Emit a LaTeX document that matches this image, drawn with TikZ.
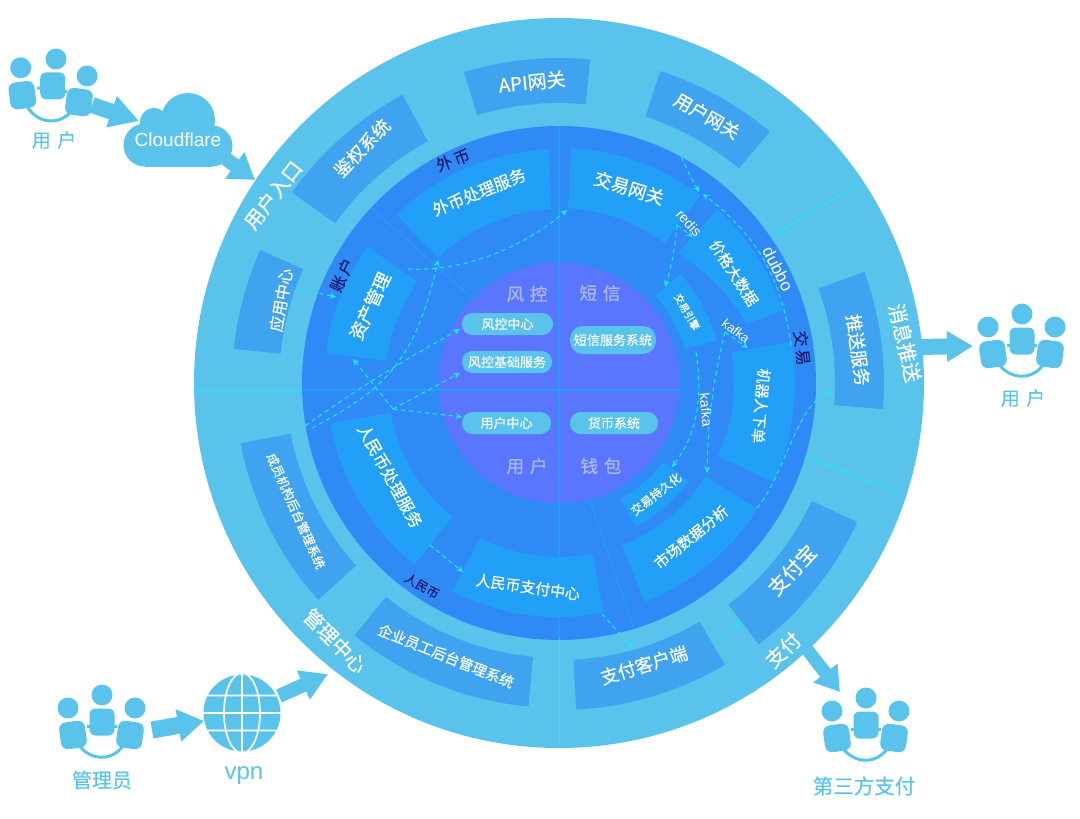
\documentclass[tikz,border=0pt]{standalone}
\usepackage{fontspec}
\setmainfont[FakeBold=0.2]{Noto Sans CJK SC}
\newfontfamily\latinfont{Liberation Sans}
\newfontfamily\corefont[FakeBold=0.8]{Noto Sans CJK SC}
\usetikzlibrary{arrows.meta}
\definecolor{ringsky}{HTML}{5AC3EC}
\definecolor{ringblue}{HTML}{308AF6}
\definecolor{coreviolet}{HTML}{5B76FE}
\definecolor{outerbox}{HTML}{40A3F0}
\definecolor{innerbox}{HTML}{22A0F8}
\definecolor{flowcyan}{HTML}{12EEFB}
\definecolor{divider}{HTML}{1F9FF5}
\definecolor{navylabel}{HTML}{1B1A70}
\definecolor{corelabel}{HTML}{ADB8F6}
\tikzset{
  txt/.style={text=white,inner sep=0pt,align=center,font=\fontsize{#1}{#1}\selectfont},
  lat/.style={text=white,inner sep=0pt,font=\latinfont\fontsize{#1}{#1}\selectfont},
  navy/.style={text=navylabel,inner sep=0pt,font=\fontsize{#1}{#1}\selectfont},
  core/.style={text=corelabel,inner sep=0pt,font=\corefont\fontsize{17.5}{17.5}\selectfont},
  skytxt/.style={text=ringsky,inner sep=0pt,font=\fontsize{#1}{#1}\selectfont},
  pill/.style={fill=ringsky,text=white,rounded corners=10.5pt,inner sep=0pt,font=\fontsize{13}{13}\selectfont},
  flow/.style={draw=flowcyan,line width=1pt,dash pattern=on 4.5pt off 3.5pt,-{Stealth[length=6.5pt,width=6pt]}},
  bigarrow/.style n args={3}{draw=ringsky,line width=#1pt,-{Triangle[length=#3pt,width=#2pt,fill=ringsky]}},
  cyanline/.style={draw=flowcyan,line width=1pt},
  dividerline/.style={draw=divider,line width=1.2pt},
}
% annular sector about the rings' centre: style, start angle, end angle, outer radius, inner radius
\newcommand\ringsector[5]{%
  \fill[#1] (#2:#4) arc[start angle=#2,end angle=#3,radius=#4] -- (#3:#5)
    arc[start angle=#3,end angle=#2,radius=#5] -- cycle;}
% group-of-people icon: name, head position, rotation
\newcommand\peopleicon[3]{%
  \begin{scope}[shift={#2},rotate=#3]
    \fill[ringsky] (-34,13) circle[radius=10.5] (33,13) circle[radius=10.5] (0,0) circle[radius=10.5];
    \draw[ringsky,line width=3pt] (-25,48) .. controls (-12,67) and (12,67) .. (23,48);
    \draw[ringsky,line width=3pt] (-15,31) -- (15,31);
    \node[fill=ringsky,minimum width=25pt,minimum height=27pt,inner sep=0pt,rounded corners=6pt] (#1c) at (0,27) {};
    \node[fill=ringsky,minimum width=26pt,minimum height=27pt,inner sep=0pt,rounded corners=7pt,rotate=8] (#1l) at (-29,40) {};
    \node[fill=ringsky,minimum width=26pt,minimum height=27pt,inner sep=0pt,rounded corners=7pt,rotate=-8] (#1r) at (28,40) {};
  \end{scope}}
\begin{document}
\begin{tikzpicture}[x=1pt,y=-1pt]
\useasboundingbox (0,0) rectangle (1080,819);

% rings
\fill[ringsky] (559,383) circle[radius=365];
\fill[ringblue] (559,383) circle[radius=257];
\fill[coreviolet] (559,383) circle[radius=120.5];

% ring dividers
\draw[cyanline] (194,390.5) -- (302,390.5);
\draw[cyanline] (559,639) -- (559,747);
\draw[cyanline] (772,236) -- (862,182);
\draw[cyanline] (806,456) -- (898,493);
\draw[dividerline] (302,390) -- (680,390);
\draw[dividerline] (559,126) -- (559,639);
\draw[dividerline] (371,208) -- (473,299);
\draw[dividerline] (589,499) -- (634,628);

% ring segments
\begin{scope}[shift={(559,383)},y=1pt]
  \ringsector{outerbox}{84.5}{107}{325}{280}
  \ringsector{outerbox}{50}{72}{328}{280}
  \ringsector{outerbox}{118.5}{144.5}{328}{275}
  \ringsector{outerbox}{156}{174}{327}{280}
  \ringsector{outerbox}{-4.6}{20}{325}{276}
  \ringsector{outerbox}{-52.6}{-25}{329}{279}
  \ringsector{outerbox}{-87}{-59.5}{327}{277}
  \ringsector{outerbox}{231}{264.6}{325}{275}
  \ringsector{outerbox}{190.7}{222}{324}{273}
  \ringsector{innerbox}{92.5}{134}{234}{174}
  \ringsector{innerbox}{53}{87}{235}{175}
  \ringsector{innerbox}{15}{42}{163}{130}
  \ringsector{innerbox}{-24.8}{10}{236}{175}
  \ringsector{innerbox}{-68.7}{-32.5}{235}{174}
  \ringsector{innerbox}{-62}{-37}{163}{131}
  \ringsector{innerbox}{243}{281}{234}{174}
  \ringsector{innerbox}{190}{231.5}{232}{171}
  \ringsector{innerbox}{144.5}{172.7}{235}{174}
  \fill[innerbox] (47.6:235) arc[start angle=47.6,end angle=17.8,radius=235]
    -- (17.5:197) to[bend right=12] (47.5:176) -- cycle;
\end{scope}

% labels on the outer ring
\node[txt=20,rotate=52] (entry) at (273,195) {用户入口};
\node[txt=20,rotate=-77] (push) at (905,343) {消息推送};
\node[txt=20,rotate=44] (pay) at (783,650) {支付};
\node[txt=20,rotate=-46] (admin) at (335,641) {管理中心};

% outer segment labels
\node[txt=19,rotate=6] (api) at (532,82) {API网关};
\node[txt=18,rotate=-30] (ugate) at (707,116) {用户网关};
\node[txt=18,rotate=46] (auth) at (362,148) {鉴权系统};
\node[txt=16,rotate=80] (appc) at (281,300) {应用中心};
\node[txt=18,rotate=-82] (pushs) at (858,350) {推送服务};
\node[txt=20,rotate=47] (alipay) at (792,570) {支付宝};
\node[txt=18,rotate=17] (payc) at (644,665) {支付客户端};
\node[txt=14.5,rotate=-22] (staff) at (446,656) {企业员工后台管理系统};
\node[txt=12.5,rotate=-66] (member) at (296,511) {成员机构后台管理系统};

% inner segment labels
\node[txt=16.5,rotate=22] (fx) at (479,192) {外币处理服务};
\node[txt=18,rotate=-17] (tgate) at (629,188) {交易网关};
\node[txt=15,rotate=-57] (price) at (734,273) {价格大数据};
\node[txt=10,rotate=-60] (engine) at (687,312) {交易引擎};
\node[txt=15,rotate=-95] (robot) at (761,406) {机器人下单};
\node[txt=15,rotate=39] (market) at (691,537) {市场数据分析};
\node[txt=12,rotate=38] (persist) at (656,494) {交易持久化};
\node[txt=15,rotate=-8] (rmbpay) at (528,587) {人民币支付中心};
\node[txt=16.5,rotate=-61] (rmbsvc) at (390,476) {人民币处理服务};
\node[txt=18,rotate=65] (asset) at (370,306) {资产管理};

% domain names on the blue ring
\node[navy=16,rotate=20] (dfx) at (453,160) {外\,币};
\node[navy=16,rotate=65] (dacc) at (342,275) {账\,户};
\node[navy=16,rotate=-83] (dtrade) at (802,348) {交\,易};
\node[navy=12.5,rotate=-30] (drmb) at (422,586) {人民币};

% transport labels
\node[lat=14,rotate=-48] (lredis) at (689,223) {redis};
\node[lat=13,rotate=-38] (lkafka) at (736,331) {kafka};
\node[lat=14,rotate=-85] (lkafkab) at (706,410) {kafka};
\node[lat=17,rotate=-63] (ldubbo) at (778,269) {dubbo};

% core: domains and services
\node[core] (crisk) at (527,294) {风\,\,控};
\node[core] (csms) at (600,293) {短\,\,信};
\node[core] (cuser) at (527,466) {用\,\,户};
\node[core] (cwallet) at (601,466) {钱\,\,包};
\node[pill,minimum width=91pt,minimum height=22pt] (riskc) at (507.5,324) {风控中心};
\node[pill,minimum width=90pt,minimum height=22pt] (riskb) at (507,362) {风控基础服务};
\node[pill,minimum width=89pt,minimum height=22pt] (userc) at (506.5,423) {用户中心};
\node[pill,minimum width=88pt,minimum height=22pt] (coin) at (614,423) {货币系统};
\node[pill,minimum width=86pt,minimum height=28pt,rounded corners=13pt] (sms) at (613,340) {短信服务系统};

% dashed service flows
\coordinate (fA) at (669,127); \coordinate (fB) at (699,192);
\coordinate (fC) at (703,194); \coordinate (fD) at (791,345);
\coordinate (fE) at (757,508); \coordinate (fF) at (833,392);
\coordinate (fG) at (677,225); \coordinate (fH) at (693,237); \coordinate (fI) at (665,287);
\coordinate (fJ) at (725,332); \coordinate (fK) at (748,348); \coordinate (fL) at (707,473);
\coordinate (fM) at (696,352); \coordinate (fN) at (672,467);
\coordinate (fO) at (292,435); \coordinate (fP) at (460,329);
\coordinate (fQ) at (312,428); \coordinate (fR) at (438,260);
\coordinate (fS) at (393,409); \coordinate (fT) at (460,373);
\coordinate (fU) at (353,359); \coordinate (fV) at (462,417);
\coordinate (fW) at (408,269); \coordinate (fX) at (567,210);
\coordinate (fY) at (296,288); \coordinate (fZ) at (336,297);
\coordinate (gA) at (430,545); \coordinate (gB) at (463,572);
\coordinate (gC) at (602,614); \coordinate (gD) at (633,648);
\coordinate (gE) at (712,643); \coordinate (gF) at (740,622);
\draw[flow] (fA) to[bend right=4] (fB);
\draw[flow] (fD) to[bend right=22] (fC);
\draw[flow] (fE) .. controls (785,475) and (798,400) .. (fF);
\draw[flow] (fG) -- (fH);
\draw[flow] (fG) to[bend left=6] (fI);
\draw[flow] (fJ) -- (fK);
\draw[flow] (fJ) to[bend right=6] (fL);
\draw[flow] (fM) .. controls (702,390) and (700,430) .. (fN);
\draw[flow] (fO) to[bend left=3] (fP);
\draw[flow] (fQ) .. controls (380,392) and (415,365) .. (fR);
\draw[flow] (fS) -- (fT);
\draw[flow] (fS) -- (fU);
\draw[flow] (fS) -- (fV);
\draw[flow] (fW) .. controls (460,272) and (520,250) .. (fX);
\draw[flow] (fY) -- (fZ);
\draw[flow] (gA) -- (gB);
\draw[flow] (gC) -- (gD);
\draw[flow] (gE) -- (gF);

% people groups and their captions
\peopleicon{ua}{(56,59)}{-7}
\node[skytxt=19] (ual) at (54,140) {用\,\,户};
\peopleicon{ub}{(102,695)}{0}
\node[skytxt=20] (ubl) at (102,780) {管理员};
\peopleicon{uc}{(1022,314)}{0}
\node[skytxt=19] (ucl) at (1023,398) {用\,\,户};
\peopleicon{ud}{(866,698)}{0}
\node[skytxt=20.5] (udl) at (864,786) {第三方支付};

% cloud
\fill[ringsky] (188,120) circle[radius=27] (154,122) circle[radius=14]
  (145,145) circle[radius=21.5] (212,146) circle[radius=20.5];
\fill[ringsky] (145,125) rectangle (212,166.5);
\node[lat=19] (cloud) at (178,140) {Cloudflare};

% globe
\fill[ringsky] (242,713) circle[radius=38.5];
\begin{scope}
  \clip (242,713) circle[radius=38.5];
  \draw[white,line width=1.7pt]
    (242,713) ellipse[x radius=18,y radius=40]
    (242,670) -- (242,756)
    (200,695.5) -- (284,695.5) (200,713) -- (284,713) (200,730.5) -- (284,730.5);
\end{scope}
\node[skytxt=24,font=\latinfont\fontsize{24}{24}\selectfont] (vpn) at (244,776) {vpn};

% block arrows between actors and the rings
\coordinate (aA) at (92,105);  \coordinate (aB) at (139,121);
\coordinate (aC) at (226,159); \coordinate (aD) at (255,180);
\coordinate (aE) at (152,730); \coordinate (aF) at (204,721);
\coordinate (aG) at (279,696); \coordinate (aH) at (328,674);
\coordinate (aI) at (918,347); \coordinate (aJ) at (973,346);
\coordinate (aK) at (806,648); \coordinate (aL) at (840,692);
\draw[bigarrow={16}{31}{29}] (aA) -- (aB);
\draw[bigarrow={14}{31}{25}] (aC) -- (aD);
\draw[bigarrow={17}{31}{26}] (aE) -- (aF);
\draw[bigarrow={14}{30}{27}] (aG) -- (aH);
\draw[bigarrow={16}{29}{26}] (aI) -- (aJ);
\draw[bigarrow={13}{29}{24}] (aK) -- (aL);
\end{tikzpicture}
\end{document}
